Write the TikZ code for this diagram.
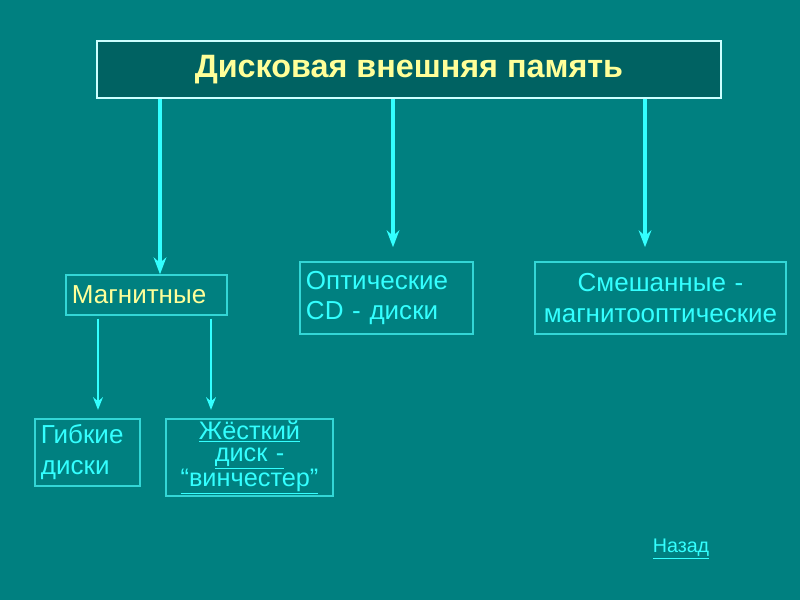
\documentclass[tikz,border=0pt]{standalone}
\usepackage{fontspec}
\setmainfont{Liberation Sans}
\usetikzlibrary{arrows.meta, positioning}
\definecolor{slidebg}{HTML}{008080}
\definecolor{titlebg}{HTML}{006262}
\definecolor{aqua}{HTML}{33FFFF}
\definecolor{boxline}{HTML}{33D6D6}
\definecolor{pale}{HTML}{FFFF99}

\begin{document}
\begin{tikzpicture}[x=0.025cm, y=-0.025cm,
  titlebox/.style={rectangle, draw=white!75!aqua, fill=titlebg, line width=1.2pt, minimum width=15.6cm, minimum height=1.425cm, font=\fontsize{23}{27}\selectfont\bfseries, text=pale},
  kindbox/.style={rectangle, draw=boxline, line width=1pt, inner xsep=0.15cm, font=\fontsize{18.5}{22}\selectfont, text=aqua},
  bigarrow/.style={-{Stealth[length=12pt, width=9pt]}, draw=aqua, line width=2.2pt},
  smallarrow/.style={-{Stealth[length=9pt, width=7pt]}, draw=aqua, line width=1.4pt}]
\fill[slidebg] (0,0) rectangle (800,600);
\useasboundingbox (0,0) rectangle (800,600);

\node (title) [titlebox] at (409,69.5) {Дисковая внешняя память};
\node (mag) [kindbox, text=pale, text width=3.725cm, align=left, minimum height=1cm] at (146.5,295) {Магнитные};
\node (opt) [kindbox, text width=4.025cm, align=left, minimum height=1.8cm] at (386.5,298) {Оптические\\CD - диски};
\node (mix) [kindbox, text width=5.975cm, align=center, minimum height=1.8cm] at (660.5,298) {Смешанные -\\магнитооптические};
\node (soft) [kindbox, text width=2.325cm, align=left, minimum height=1.675cm] at (87.5,452.5) {Гибкие\\диски};
\node (hard) [kindbox, text width=3.875cm, align=center, inner ysep=0pt, minimum height=1.925cm, font=\fontsize{18}{16.5}\selectfont] at (249.5,457.5) {\underline{Жёсткий}\\[-1pt]\underline{диск -}\\[-1pt]\underline{“винчестер”}};
\node (back) [text=aqua, font=\fontsize{14}{16}\selectfont] at (681,549) {\underline{Назад}};

\draw [bigarrow] (title.south -| 160,0) -- (mag.north -| 160,0);
\draw [bigarrow, shorten >=10pt] (title.south -| 393,0) -- (opt.north -| 393,0);
\draw [bigarrow, shorten >=10pt] (title.south -| 645,0) -- (mix.north -| 645,0);
\draw [smallarrow, shorten <=2pt, shorten >=6pt] (mag.south -| 98,0) -- (soft.north -| 98,0);
\draw [smallarrow, shorten <=2pt, shorten >=6pt] (mag.south -| 211,0) -- (hard.north -| 211,0);
\end{tikzpicture}
\end{document}
